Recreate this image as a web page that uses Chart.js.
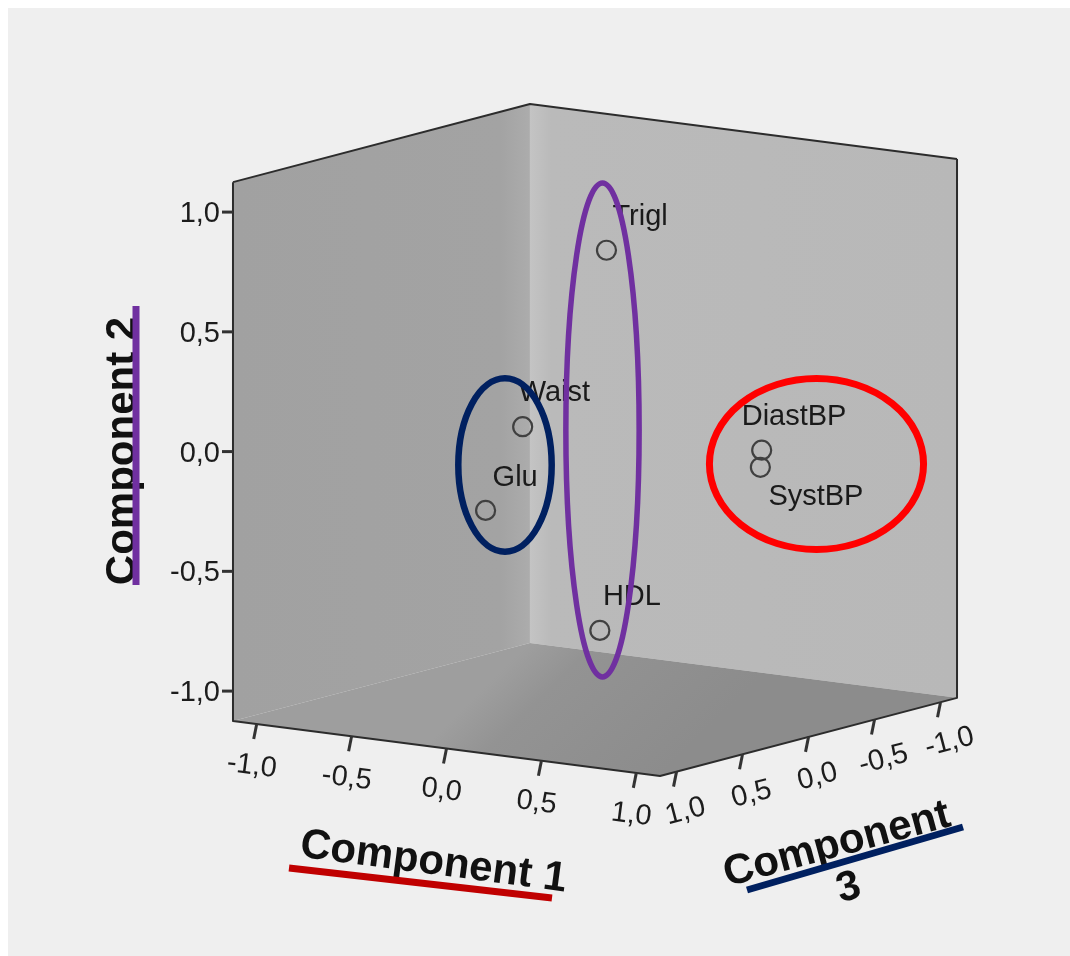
<!DOCTYPE html>
<html>
<head>
<meta charset="utf-8">
<script src="https://cdn.jsdelivr.net/npm/chart.js@4.4.1/dist/chart.umd.min.js"></script>
<style>
  html, body { margin: 0; padding: 0; background: #ffffff; }
  canvas { display: block; }
</style>
</head>
<body>
<canvas id="chart" width="1070" height="956"></canvas>
<script>
// Component loadings of each variable (three-component solution)
const variables  = ['Trigl', 'Waist', 'Glu', 'HDL', 'DiastBP', 'SystBP'];
const component1 = [0.13, 0.21, -0.02, 0.13, 0.92, 0.92];
const component2 = [0.82, 0.20, -0.18, -0.76, 0.06, -0.01];
const component3 = [0.10, 0.85, 0.80, 0.15, 0.06, 0.07];

// Axis ticks shared by the three component axes
const tickValues = [-1.0, -0.5, 0.0, 0.5, 1.0];
const tickLabels = ['-1,0', '-0,5', '0,0', '0,5', '1,0'];
const axisTitles = ['Component 1', 'Component 2', 'Component 3'];

// ---- view / style settings ----
const BOX = 1.125;                       // half extent of the plotted cube
const PX_PER_UNIT = 239.5;               // screen scale of one projected unit
const ORIGIN_PX = [595, 440];            // where (0,0,0) lands on the canvas
// projected screen direction of one unit along each component
const VIEW_X = [0.7925, 0.0, -0.5511];
const VIEW_Y = [-0.1019, 1.0, -0.1449];

// label offsets (px) relative to each point, left/baseline anchored
const labelOffsets = [[6, -25], [-4, -26], [7, -24], [3, -25], [-20, -25], [8, 38]];

// hand-drawn grouping ellipses, in projected units
const groupEllipses = [
  { color: '#002060', width: 6.5, center: [-0.3758, -0.1044], radii: [0.195, 0.362] },
  { color: '#7030a0', width: 5.5, center: [0.0313, 0.0418],  radii: [0.153, 1.031] },
  { color: '#ff0000', width: 7,   center: [0.9248, -0.1002], radii: [0.447, 0.357] }
];

const FONT = '"Liberation Sans", Arial, sans-serif';

function project(c1, c2, c3) {
  return {
    x: VIEW_X[0] * c1 + VIEW_X[1] * c2 + VIEW_X[2] * c3,
    y: VIEW_Y[0] * c1 + VIEW_Y[1] * c2 + VIEW_Y[2] * c3
  };
}

function toPixel(chart, c1, c2, c3) {
  const p = project(c1, c2, c3);
  return { x: chart.scales.x.getPixelForValue(p.x), y: chart.scales.y.getPixelForValue(p.y) };
}

function poly(ctx, pts) {
  ctx.beginPath();
  ctx.moveTo(pts[0].x, pts[0].y);
  for (let i = 1; i < pts.length; i++) ctx.lineTo(pts[i].x, pts[i].y);
  ctx.closePath();
}

const pointData = variables.map((_, i) => project(component1[i], component2[i], component3[i]));

// Cube walls, floor, edges, ticks and tick labels
const cubePlugin = {
  id: 'cube',
  beforeDraw(chart) {
    const ctx = chart.ctx;
    ctx.save();
    ctx.fillStyle = '#ffffff';
    ctx.fillRect(0, 0, chart.width, chart.height);
    ctx.fillStyle = '#efefef';
    ctx.fillRect(8, 8, chart.width - 8, chart.height - 8);
    ctx.restore();
  },
  beforeDatasetsDraw(chart) {
    const ctx = chart.ctx;
    const b = BOX;
    const A  = toPixel(chart, -b, -b,  b);   // front-left bottom
    const F  = toPixel(chart,  b, -b,  b);   // front bottom
    const R  = toPixel(chart,  b, -b, -b);   // right bottom
    const B  = toPixel(chart, -b, -b, -b);   // back bottom
    const At = toPixel(chart, -b,  b,  b);
    const Rt = toPixel(chart,  b,  b, -b);
    const Bt = toPixel(chart, -b,  b, -b);

    ctx.save();
    // left wall (component 1 minimum)
    let g = ctx.createLinearGradient(A.x, 0, B.x, 0);
    g.addColorStop(0, '#a1a1a1');
    g.addColorStop(0.9, '#a3a3a3');
    g.addColorStop(1, '#acacac');
    ctx.fillStyle = g;
    poly(ctx, [A, B, Bt, At]);
    ctx.fill();

    // right wall (component 3 minimum)
    g = ctx.createLinearGradient(B.x, 0, R.x, 0);
    g.addColorStop(0, '#c4c4c4');
    g.addColorStop(0.05, '#bababa');
    g.addColorStop(1, '#b8b8b8');
    ctx.fillStyle = g;
    poly(ctx, [B, R, Rt, Bt]);
    ctx.fill();

    // floor (component 2 minimum)
    g = ctx.createLinearGradient(B.x, B.y, F.x, F.y);
    g.addColorStop(0, '#9e9e9e');
    g.addColorStop(0.25, '#939393');
    g.addColorStop(1, '#8c8c8c');
    ctx.fillStyle = g;
    poly(ctx, [A, F, R, B]);
    ctx.fill();

    // visible cube edges
    ctx.strokeStyle = '#2c2c2c';
    ctx.lineWidth = 2;
    ctx.lineJoin = 'round';
    ctx.beginPath();
    ctx.moveTo(At.x, At.y); ctx.lineTo(A.x, A.y); ctx.lineTo(F.x, F.y);
    ctx.lineTo(R.x, R.y); ctx.lineTo(Rt.x, Rt.y);
    ctx.moveTo(At.x, At.y); ctx.lineTo(Bt.x, Bt.y); ctx.lineTo(Rt.x, Rt.y);
    ctx.stroke();

    // ticks and labels
    ctx.fillStyle = '#1c1c1c';
    ctx.strokeStyle = '#333333';
    ctx.lineWidth = 3;
    ctx.font = '29px ' + FONT;

    const ang1 = Math.atan2(F.y - A.y, F.x - A.x);
    const ang3 = Math.atan2(R.y - F.y, R.x - F.x);

    tickValues.forEach((v, i) => {
      // component 2 on the left vertical edge
      let p = toPixel(chart, -b, v, b);
      ctx.beginPath(); ctx.moveTo(p.x, p.y); ctx.lineTo(p.x - 11, p.y); ctx.stroke();
      ctx.textAlign = 'right'; ctx.textBaseline = 'middle';
      ctx.fillText(tickLabels[i], p.x - 13, p.y + 2);

      // component 1 along the front-left floor edge
      p = toPixel(chart, v, -b, b);
      ctx.beginPath(); ctx.moveTo(p.x, p.y); ctx.lineTo(p.x - 3, p.y + 15); ctx.stroke();
      ctx.save();
      ctx.translate(p.x - 5, p.y + 42);
      ctx.rotate(ang1);
      ctx.textAlign = 'center'; ctx.textBaseline = 'middle';
      ctx.fillText(tickLabels[i], 0, 0);
      ctx.restore();

      // component 3 along the front-right floor edge
      p = toPixel(chart, b, -b, v);
      ctx.beginPath(); ctx.moveTo(p.x, p.y); ctx.lineTo(p.x - 3, p.y + 15); ctx.stroke();
      ctx.save();
      ctx.translate(p.x + 9, p.y + 40);
      ctx.rotate(ang3);
      ctx.textAlign = 'center'; ctx.textBaseline = 'middle';
      ctx.fillText(tickLabels[i], 0, 0);
      ctx.restore();
    });
    ctx.restore();
  },
  afterDatasetsDraw(chart) {
    const ctx = chart.ctx;
    const meta = chart.getDatasetMeta(0);
    ctx.save();

    // point labels
    ctx.fillStyle = '#1a1a1a';
    ctx.font = '29px ' + FONT;
    ctx.textAlign = 'left';
    ctx.textBaseline = 'alphabetic';
    meta.data.forEach((el, i) => {
      ctx.fillText(variables[i], el.x + labelOffsets[i][0], el.y + labelOffsets[i][1]);
    });

    // grouping ellipses
    const sx = chart.scales.x, sy = chart.scales.y;
    groupEllipses.forEach(e => {
      const cx = sx.getPixelForValue(e.center[0]);
      const cy = sy.getPixelForValue(e.center[1]);
      const rx = Math.abs(sx.getPixelForValue(e.center[0] + e.radii[0]) - cx);
      const ry = Math.abs(sy.getPixelForValue(e.center[1] + e.radii[1]) - cy);
      ctx.beginPath();
      ctx.ellipse(cx, cy, rx, ry, 0, 0, Math.PI * 2);
      ctx.strokeStyle = e.color;
      ctx.lineWidth = e.width;
      ctx.stroke();
    });

    // axis titles with coloured underlines
    ctx.fillStyle = '#111111';
    ctx.font = 'bold 42px ' + FONT;
    ctx.textAlign = 'center';
    ctx.textBaseline = 'alphabetic';

    ctx.save();
    ctx.translate(432, 874);
    ctx.rotate(7.5 * Math.PI / 180);
    ctx.fillText(axisTitles[0], 0, 0);
    ctx.restore();

    ctx.save();
    ctx.translate(135, 451);
    ctx.rotate(-Math.PI / 2);
    ctx.fillText(axisTitles[1], 0, 0);
    ctx.restore();

    const t3 = axisTitles[2].split(' ');
    ctx.save();
    ctx.translate(840, 856);
    ctx.rotate(-15.1 * Math.PI / 180);
    ctx.fillText(t3[0], 0, 0);
    ctx.fillText(t3[1], 0, 45);
    ctx.restore();

    ctx.lineWidth = 7;
    ctx.lineCap = 'butt';
    ctx.strokeStyle = '#c00000';
    ctx.beginPath(); ctx.moveTo(289, 868); ctx.lineTo(552, 898); ctx.stroke();
    ctx.strokeStyle = '#7030a0';
    ctx.beginPath(); ctx.moveTo(136, 306); ctx.lineTo(136, 585); ctx.stroke();
    ctx.strokeStyle = '#002060';
    ctx.beginPath(); ctx.moveTo(747, 890); ctx.lineTo(963, 827); ctx.stroke();

    ctx.restore();
  }
};

new Chart(document.getElementById('chart'), {
  type: 'scatter',
  data: {
    datasets: [{
      label: 'Loadings',
      data: pointData,
      pointStyle: 'circle',
      pointRadius: 9.5,
      pointHoverRadius: 9.5,
      borderColor: '#404040',
      borderWidth: 2.2,
      backgroundColor: 'rgba(0,0,0,0)'
    }]
  },
  options: {
    responsive: false,
    animation: false,
    devicePixelRatio: 1,
    layout: { padding: 0, autoPadding: false },
    events: [],
    plugins: { legend: { display: false }, tooltip: { enabled: false } },
    scales: {
      x: { type: 'linear', display: false,
           min: -ORIGIN_PX[0] / PX_PER_UNIT, max: (1070 - ORIGIN_PX[0]) / PX_PER_UNIT },
      y: { type: 'linear', display: false,
           min: -(956 - ORIGIN_PX[1]) / PX_PER_UNIT, max: ORIGIN_PX[1] / PX_PER_UNIT }
    }
  },
  plugins: [cubePlugin]
});
</script>
</body>
</html>
